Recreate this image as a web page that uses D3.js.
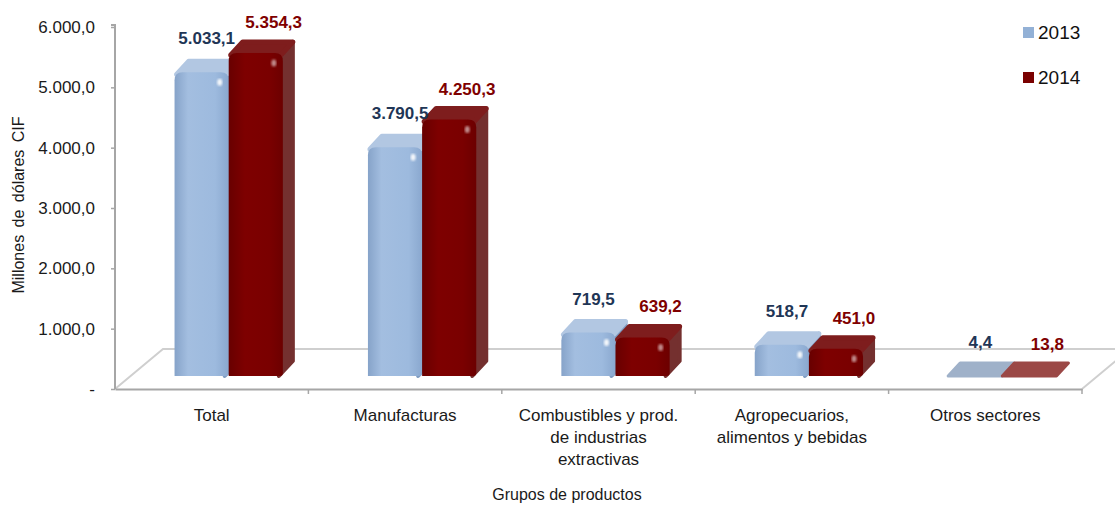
<!DOCTYPE html>
<html>
<meta charset="utf-8">
<head>
  <title>Grupos de productos</title>
  <script src="https://d3js.org/d3.v7.min.js"></script>
  <style type="text/css">
    body {margin: 0; background: #fff;}
    text {font-family: "Liberation Sans", Arial, sans-serif;}
  </style>
</head>
<body>
<div id="chart"></div>
<script>
    // data
    var categories = ["Total", "Manufacturas", "Combustibles", "Agropecuarios", "Otros sectores"];
    var categoryLines = [
        ["Total"],
        ["Manufacturas"],
        ["Combustibles y prod.", "de industrias", "extractivas"],
        ["Agropecuarios,", "alimentos y bebidas"],
        ["Otros sectores"]
    ];
    var years = ["2013", "2014"];
    var values2013 = [5033.1, 3790.5, 719.5, 518.7, 4.4];
    var values2014 = [5354.3, 4250.3, 639.2, 451.0, 13.8];
    var yTicks = [0, 1000, 2000, 3000, 4000, 5000, 6000];

    var width = 1115, height = 508;
    var plot = {left: 115, right: 1082, top: 27, bottom: 389};
    var floorDepth = {x: 48, y: 40};   // 3d floor offset
    var barShift = {x: 17, y: 13};     // bars sit part way back on the floor
    var face = {x: 12, y: 13};         // depth of each column

    var locale = d3.formatLocale({decimal: ",", thousands: ".", grouping: [3], currency: ["", ""]});
    var fmt = locale.format(",.1f");

    var svg = d3.select("#chart").append("svg")
        .attr("width", width)
        .attr("height", height);

    var defs = svg.append("defs");
    function hGrad(id, stops) {
        var g = defs.append("linearGradient").attr("id", id)
            .attr("x1", "0%").attr("x2", "100%").attr("y1", "0%").attr("y2", "0%");
        stops.forEach(function(s) {
            g.append("stop").attr("offset", s[0]).attr("stop-color", s[1]);
        });
    }
    hGrad("blueFront", [["0%", "#86a3c9"], ["25%", "#a3bee0"], ["75%", "#9dbade"], ["100%", "#8aa8cf"]]);
    hGrad("redFront", [["0%", "#680000"], ["30%", "#7e0000"], ["75%", "#7a0000"], ["100%", "#6c0000"]]);
    defs.append("filter").attr("id", "blur")
        .append("feGaussianBlur").attr("stdDeviation", 1.2);

    var styles = {
        "2013": {front: "url(#blueFront)", top: "#b2c7e2", side: "#7f9cc2", flat: "#9fb1c9", label: "#1f3656"},
        "2014": {front: "url(#redFront)", top: "#7e1d1d", side: "#74302f", flat: "#9b4846", label: "#7f0000"}
    };

    // scales
    var x = d3.scaleBand().domain(categories).range([plot.left, plot.right]);
    var y = d3.scaleLinear().domain([0, 6000]).range([plot.bottom, plot.top]);

    // floor
    var floor = svg.append("g").attr("stroke", "#cfcfcf").attr("stroke-width", 2).attr("fill", "none");
    floor.append("path").attr("d", d3.line()([
        [plot.left, y(0)],
        [plot.left + floorDepth.x, y(0) - floorDepth.y],
        [plot.right + floorDepth.x, y(0) - floorDepth.y],
        [plot.right, y(0)]
    ]));

    // y axis
    var yAxis = svg.append("g")
        .attr("transform", "translate(" + plot.left + ",0)")
        .call(d3.axisLeft(y).tickValues(yTicks).tickSize(4).tickPadding(16)
            .tickFormat(function(d) { return d === 0 ? "-" : fmt(d); }));
    yAxis.select(".domain").attr("stroke", "#a6a6a6").attr("stroke-width", 2)
        .attr("d", "M-4," + (plot.top - 2) + "H0V" + y(0));
    yAxis.selectAll(".tick line").attr("stroke", "#a6a6a6").attr("stroke-width", 1.5);
    yAxis.selectAll(".tick text").attr("font-size", 17).attr("fill", "#1a1a1a")
        .attr("font-family", "Liberation Sans, Arial, sans-serif");

    // x axis
    var xAxis = svg.append("g")
        .attr("transform", "translate(0," + y(0) + ")")
        .call(d3.axisBottom(x).tickSize(0).tickFormat(""));
    xAxis.select(".domain").attr("stroke", "#a6a6a6").attr("stroke-width", 2);
    var sep = categories.map(function(c) { return x(c) + x.bandwidth(); });
    xAxis.selectAll(".sep").data(sep).enter().append("line")
        .attr("x1", function(d) { return d; }).attr("x2", function(d) { return d; })
        .attr("y1", 0).attr("y2", 5)
        .attr("stroke", "#a6a6a6").attr("stroke-width", 1.5);

    var catText = svg.append("g").selectAll("text")
        .data(categories).enter().append("text")
        .attr("text-anchor", "middle")
        .attr("font-size", 17)
        .attr("fill", "#1a1a1a")
        .attr("y", y(0) + 32);
    catText.each(function(c, i) {
        var t = d3.select(this);
        categoryLines[i].forEach(function(line, k) {
            t.append("tspan")
                .attr("x", x(c) + x.bandwidth() / 2)
                .attr("dy", k === 0 ? 0 : 22)
                .text(line);
        });
    });

    // axis titles
    svg.append("text")
        .attr("transform", "translate(24," + 205 + ") rotate(-90)")
        .attr("text-anchor", "middle")
        .attr("font-size", 16)
        .attr("fill", "#1a1a1a")
        .attr("word-spacing", 3)
        .text("Millones de dólares CIF");

    svg.append("text")
        .attr("x", 567).attr("y", 500)
        .attr("text-anchor", "middle")
        .attr("font-size", 16)
        .attr("fill", "#1a1a1a")
        .text("Grupos de productos");

    // columns
    var barW = x.bandwidth() * 0.28;
    var bars = svg.append("g");

    function column(cat, yi, v) {
        var st = styles[years[yi]];
        var cx = x(cat) + x.bandwidth() / 2 + barShift.x;
        var x0 = yi === 0 ? cx - barW : cx;
        var x1 = x0 + barW;
        var yTop = y(v) - barShift.y;
        var yBot = y(0) - barShift.y;
        var g = bars.append("g");
        var h = yBot - yTop;

        if (h < 3) {
            g.append("path")
                .attr("d", d3.line()([[x0, yBot], [x0 + face.x, yBot - face.y], [x1 + face.x, yBot - face.y], [x1, yBot]]) + "Z")
                .attr("fill", st.flat).attr("stroke", st.flat)
                .attr("stroke-width", 3).attr("stroke-linejoin", "round");
            return;
        }
        var r = Math.min(8, h / 2);
        // side face
        g.append("path")
            .attr("d", d3.line()([[x1 - 2, yTop + 2], [x1 + face.x - 2, yTop - face.y + 2],
                [x1 + face.x - 2, yBot - face.y - 2], [x1 - 4, yBot]]) + "Z")
            .attr("fill", st.side).attr("stroke", st.side)
            .attr("stroke-width", 4).attr("stroke-linejoin", "round");
        // top face
        g.append("path")
            .attr("d", d3.line()([[x0 + 2, yTop + 2], [x0 + face.x + 2, yTop - face.y + 2],
                [x1 + face.x - 2, yTop - face.y + 2], [x1 - 2, yTop + 2]]) + "Z")
            .attr("fill", st.top).attr("stroke", st.top)
            .attr("stroke-width", 5).attr("stroke-linejoin", "round");
        // front face with rounded top corners
        g.append("path")
            .attr("d", "M" + x0 + "," + yBot +
                "V" + (yTop + r) +
                "Q" + x0 + "," + yTop + " " + (x0 + r) + "," + yTop +
                "H" + (x1 - r) +
                "Q" + x1 + "," + yTop + " " + x1 + "," + (yTop + r) +
                "V" + (yBot - 3) + "Q" + x1 + "," + yBot + " " + (x1 - 3) + "," + yBot + "Z")
            .attr("fill", st.front);
        // specular spot
        g.append("ellipse")
            .attr("cx", x1 - 9).attr("cy", yTop + 10)
            .attr("rx", 2.5).attr("ry", 3.5)
            .attr("fill", "#fff").attr("opacity", yi === 0 ? 0.9 : 0.55)
            .attr("filter", "url(#blur)");
    }

    categories.forEach(function(c, i) {
        column(c, 0, values2013[i]);
        column(c, 1, values2014[i]);
    });

    // value labels
    var labels = svg.append("g").attr("font-weight", "bold").attr("font-size", 17).attr("text-anchor", "middle");
    categories.forEach(function(c, i) {
        var cx = x(c) + x.bandwidth() / 2 + barShift.x;
        labels.append("text")
            .attr("x", cx - 22)
            .attr("y", y(values2013[i]) - barShift.y - 28)
            .attr("fill", styles["2013"].label)
            .text(fmt(values2013[i]));
        labels.append("text")
            .attr("x", cx + 45)
            .attr("y", y(values2014[i]) - barShift.y - 25)
            .attr("fill", styles["2014"].label)
            .text(fmt(values2014[i]));
    });

    // legend
    var legend = svg.append("g").selectAll("g")
        .data(years).enter().append("g")
        .attr("transform", function(d, i) { return "translate(1023," + (27 + i * 45) + ")"; });
    legend.append("rect")
        .attr("width", 11).attr("height", 11)
        .attr("fill", function(d) { return d === "2013" ? "#93b1d6" : "#7a0000"; });
    legend.append("text")
        .attr("x", 15).attr("y", 12)
        .attr("font-size", 19)
        .attr("fill", "#111")
        .text(function(d) { return d; });
</script>
</body>
</html>
